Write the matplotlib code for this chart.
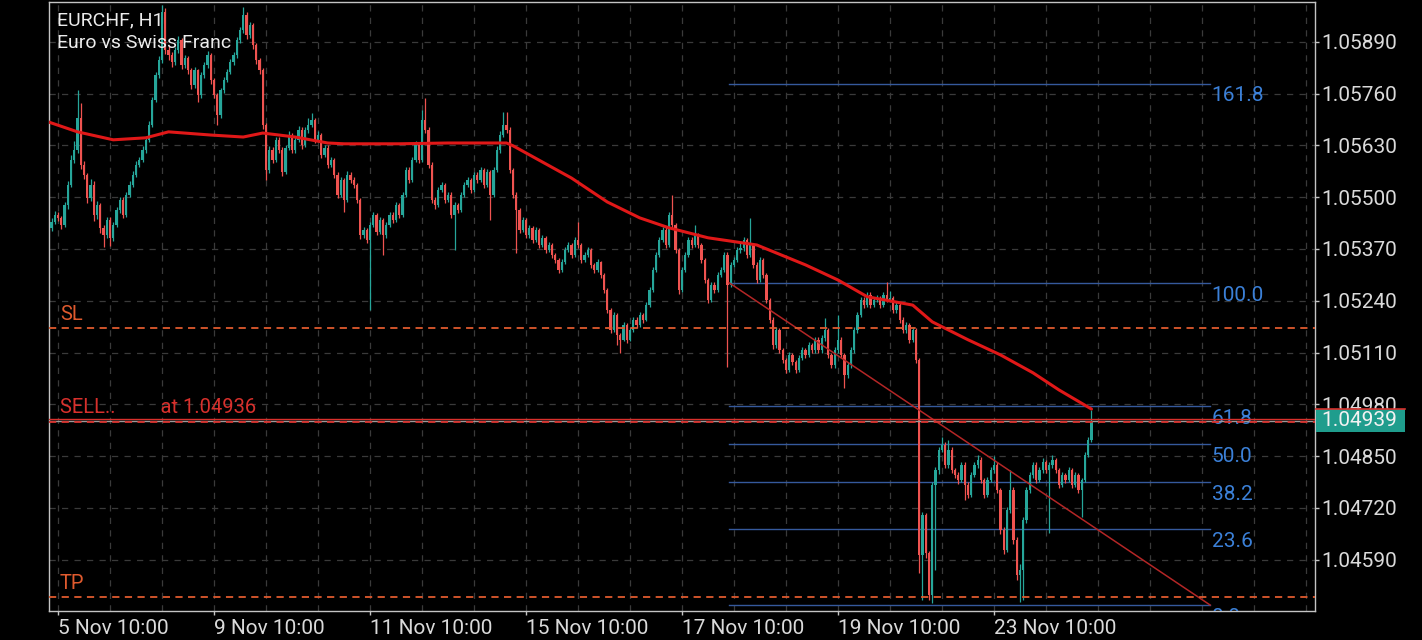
import matplotlib.pyplot as plt
import matplotlib.transforms as mtransforms
from matplotlib.patches import Rectangle
import numpy as np

plt.rcParams['font.family'] = ['Roboto', 'DejaVu Sans']

# prices are stored in 1e-5 steps above 1.04000 (so 1438 -> 1.05438)
BASE = 1.04
STEP = 1e-5

first_open = 1423
closes = [
    1438, 1455, 1448, 1430, 1480, 1531, 1593, 1619, 1699, 1581,
    1556, 1498, 1531, 1455, 1480, 1423, 1405, 1443, 1398, 1430,
    1468, 1493, 1455, 1506, 1531, 1556, 1581, 1593, 1619, 1644,
    1681, 1744, 1807, 1844, 1965, 1870, 1857, 1839, 1870, 1895,
    1832, 1849, 1819, 1782, 1819, 1757, 1807, 1832, 1857, 1794,
    1757, 1706, 1769, 1794, 1814, 1839, 1857, 1895, 1920, 1957,
    1907, 1932, 1882, 1844, 1819, 1681, 1568, 1619, 1593, 1644,
    1619, 1563, 1624, 1656, 1619, 1644, 1669, 1631, 1669, 1681,
    1694, 1644, 1656, 1606, 1624, 1581, 1593, 1556, 1506, 1543,
    1493, 1556, 1543, 1531, 1493, 1405, 1418, 1393, 1430, 1455,
    1413, 1443, 1405, 1430, 1455, 1443, 1480, 1455, 1506, 1568,
    1543, 1593, 1631, 1593, 1694, 1669, 1581, 1493, 1480, 1518,
    1531, 1493, 1506, 1455, 1480, 1468, 1506, 1531, 1543, 1518,
    1556, 1543, 1568, 1531, 1563, 1506, 1568, 1619, 1656, 1681,
    1669, 1568, 1506, 1468, 1418, 1443, 1405, 1423, 1393, 1418,
    1380, 1398, 1368, 1380, 1355, 1342, 1317, 1337, 1368, 1380,
    1355, 1393, 1380, 1342, 1355, 1368, 1330, 1317, 1337, 1305,
    1267, 1217, 1167, 1204, 1154, 1142, 1179, 1142, 1167, 1192,
    1179, 1204, 1192, 1229, 1267, 1317, 1355, 1393, 1418, 1380,
    1455, 1430, 1368, 1267, 1317, 1355, 1393, 1380, 1405, 1380,
    1342, 1292, 1242, 1280, 1267, 1305, 1317, 1355, 1280, 1330,
    1342, 1368, 1373, 1393, 1355, 1380, 1330, 1292, 1342, 1305,
    1242, 1192, 1129, 1167, 1117, 1091, 1066, 1104, 1086, 1066,
    1096, 1117, 1104, 1129, 1117, 1142, 1117, 1147, 1167, 1104,
    1079, 1117, 1142, 1104, 1054, 1079, 1117, 1167, 1204, 1242,
    1229, 1255, 1229, 1242, 1247, 1229, 1255, 1242, 1247, 1217,
    1229, 1192, 1167, 1179, 1142, 1167, 1091, 602, 702, 607,
    502, 778, 815, 866, 878, 828, 866, 815, 803, 790,
    828, 778, 753, 803, 828, 840, 790, 753, 790, 815,
    828, 765, 665, 615, 715, 765, 640, 552, 564, 690,
    765, 803, 828, 790, 815, 835, 815, 828, 840, 815,
    778, 803, 790, 815, 778, 803, 765, 790, 853, 891, 939,
]
highs = [
    1448, 1465, 1462, 1452, 1488, 1540, 1605, 1640, 1769, 1736,
    1590, 1560, 1545, 1540, 1490, 1485, 1430, 1450, 1450, 1438,
    1475, 1500, 1500, 1512, 1540, 1565, 1590, 1600, 1628, 1652,
    1690, 1752, 1815, 1855, 1982, 1975, 1880, 1865, 1878, 1905,
    1900, 1858, 1855, 1825, 1828, 1822, 1815, 1840, 1866, 1862,
    1800, 1762, 1775, 1802, 1822, 1848, 1865, 1902, 1928, 1977,
    1965, 1940, 1938, 1888, 1850, 1825, 1686, 1628, 1625, 1652,
    1650, 1625, 1632, 1665, 1662, 1652, 1678, 1675, 1676, 1699,
    1711, 1700, 1665, 1662, 1632, 1630, 1600, 1598, 1562, 1550,
    1548, 1565, 1562, 1550, 1536, 1498, 1425, 1422, 1438, 1462,
    1460, 1450, 1448, 1438, 1462, 1462, 1488, 1486, 1512, 1575,
    1575, 1600, 1640, 1638, 1719, 1749, 1675, 1588, 1500, 1525,
    1538, 1536, 1512, 1512, 1488, 1486, 1512, 1538, 1550, 1548,
    1562, 1562, 1575, 1572, 1570, 1568, 1575, 1628, 1665, 1714,
    1714, 1675, 1572, 1512, 1472, 1450, 1448, 1430, 1428, 1425,
    1422, 1405, 1402, 1388, 1385, 1360, 1348, 1345, 1375, 1388,
    1385, 1400, 1438, 1385, 1362, 1375, 1372, 1335, 1345, 1340,
    1310, 1272, 1222, 1212, 1210, 1160, 1186, 1185, 1175, 1200,
    1198, 1212, 1210, 1236, 1275, 1325, 1362, 1400, 1426, 1425,
    1462, 1506, 1436, 1372, 1325, 1362, 1400, 1400, 1430, 1410,
    1385, 1348, 1298, 1288, 1286, 1312, 1325, 1362, 1362, 1338,
    1350, 1375, 1385, 1400, 1398, 1448, 1386, 1336, 1350, 1348,
    1310, 1248, 1198, 1175, 1172, 1122, 1096, 1112, 1110, 1092,
    1104, 1125, 1122, 1136, 1135, 1150, 1148, 1155, 1197, 1172,
    1110, 1125, 1204, 1148, 1110, 1086, 1125, 1175, 1212, 1250,
    1250, 1262, 1262, 1250, 1255, 1252, 1262, 1287, 1265, 1252,
    1236, 1234, 1198, 1186, 1185, 1175, 1172, 1096, 710, 708,
    612, 786, 822, 874, 898, 885, 891, 872, 820, 810,
    835, 835, 785, 810, 835, 853, 848, 796, 798, 822,
    850, 835, 770, 672, 722, 815, 772, 648, 580, 698,
    772, 810, 835, 835, 822, 845, 840, 835, 853, 846,
    820, 810, 808, 822, 820, 810, 808, 796, 860, 898, 966,
]
lows = [
    1415, 1432, 1440, 1420, 1425, 1470, 1525, 1585, 1610, 1570,
    1545, 1485, 1490, 1440, 1445, 1410, 1375, 1398, 1378, 1390,
    1425, 1460, 1448, 1450, 1500, 1525, 1550, 1575, 1588, 1612,
    1638, 1675, 1738, 1800, 1838, 1860, 1845, 1828, 1832, 1862,
    1822, 1825, 1810, 1772, 1775, 1739, 1750, 1800, 1825, 1785,
    1748, 1681, 1700, 1762, 1788, 1808, 1832, 1850, 1888, 1912,
    1898, 1900, 1872, 1835, 1810, 1670, 1543, 1560, 1585, 1588,
    1610, 1552, 1558, 1618, 1610, 1612, 1638, 1622, 1625, 1662,
    1675, 1635, 1638, 1598, 1600, 1572, 1575, 1548, 1498, 1500,
    1463, 1488, 1535, 1522, 1485, 1395, 1398, 1385, 1217, 1425,
    1405, 1408, 1355, 1398, 1425, 1435, 1438, 1448, 1450, 1500,
    1535, 1538, 1588, 1585, 1588, 1660, 1572, 1485, 1470, 1475,
    1512, 1485, 1488, 1448, 1368, 1460, 1462, 1500, 1525, 1510,
    1512, 1536, 1538, 1522, 1525, 1443, 1500, 1562, 1612, 1650,
    1660, 1560, 1498, 1360, 1410, 1412, 1398, 1398, 1385, 1388,
    1372, 1375, 1360, 1362, 1348, 1335, 1310, 1312, 1332, 1362,
    1348, 1350, 1372, 1335, 1338, 1350, 1322, 1310, 1312, 1298,
    1260, 1210, 1158, 1162, 1129, 1109, 1138, 1135, 1138, 1162,
    1172, 1175, 1185, 1188, 1225, 1262, 1312, 1350, 1388, 1372,
    1375, 1422, 1360, 1258, 1262, 1312, 1350, 1372, 1375, 1372,
    1335, 1285, 1235, 1236, 1260, 1262, 1300, 1312, 1074, 1275,
    1325, 1336, 1360, 1366, 1348, 1350, 1322, 1285, 1286, 1298,
    1235, 1185, 1120, 1122, 1108, 1084, 1058, 1060, 1078, 1058,
    1060, 1090, 1097, 1098, 1110, 1110, 1110, 1110, 1140, 1096,
    1070, 1072, 1110, 1096, 1021, 1046, 1072, 1110, 1160, 1198,
    1222, 1225, 1222, 1224, 1236, 1222, 1225, 1236, 1238, 1210,
    1210, 1185, 1160, 1160, 1135, 1136, 1084, 557, 489, 595,
    489, 482, 564, 805, 860, 820, 820, 808, 795, 780,
    785, 740, 745, 748, 798, 820, 782, 745, 748, 785,
    808, 758, 655, 605, 608, 708, 630, 540, 484, 489,
    682, 758, 796, 782, 785, 808, 808, 657, 820, 808,
    770, 772, 783, 785, 770, 772, 758, 697, 785, 848, 885,
]

# moving average (bar index, value)
ma_bars = [-1, 8, 19, 29, 36, 49, 59, 65, 75, 85, 90, 107, 122, 140, 142, 150,
           160, 171, 181, 190, 202, 217, 232, 242, 251, 265, 271, 282, 292,
           302, 310, 320]
ma_vals = [1689, 1664, 1644, 1649, 1664, 1656, 1651, 1661, 1651, 1636, 1634,
           1634, 1636, 1636, 1629, 1593, 1548, 1488, 1448, 1423, 1398, 1380,
           1330, 1292, 1250, 1229, 1187, 1142, 1104, 1059, 1016, 968]

tick_bars = [2, 50, 98, 146, 194, 242, 290]
tick_labels = ['5 Nov 10:00', '9 Nov 10:00', '11 Nov 10:00', '15 Nov 10:00',
               '17 Nov 10:00', '19 Nov 10:00', '23 Nov 10:00']
price_ticks = [1.04590, 1.04720, 1.04850, 1.04980, 1.05110, 1.05240,
               1.05370, 1.05500, 1.05630, 1.05760, 1.05890]

fib_levels = [0.0, 23.6, 38.2, 50.0, 61.8, 100.0, 161.8]
fib_low = 1.04476
fib_high = 1.05285
fib_start_bar = 208.5
fib_end_bar = 356.5

sl_price = 1.05172
tp_price = 1.04497
sell_price = 1.04936
bid_price = 1.04939
ask_price = 1.04943

# colors
BG = '#000000'
BULL = '#26a69a'
BEAR = '#ef5350'
GRID = '#3a3a3a'
AXIS = '#c4c4c4'
TXT = '#dadada'
FIB = '#35599c'
FIB_TXT = '#3b80d8'
LEVEL = '#df5a2e'
ORDER = '#d8302c'
MA = '#e01818'

fig = plt.figure(figsize=(14.22, 6.4), dpi=100, facecolor=BG)
ax = fig.add_axes([49 / 1422, 1 - 611 / 640, 1266 / 1422, 609 / 640])
ax.set_facecolor(BG)

c = BASE + np.array(closes) * STEP
o = BASE + np.array([first_open] + closes[:-1]) * STEP
h = np.maximum(BASE + np.array(highs) * STEP, np.maximum(o, c))
l = np.minimum(BASE + np.array(lows) * STEP, np.minimum(o, c))
x = np.arange(len(c))
cols = np.where(c >= o, BULL, BEAR)

ax.vlines(x, l, h, colors=cols, lw=0.9, zorder=3)
ax.bar(x, np.maximum(np.abs(c - o), 0.000012), bottom=np.minimum(o, c),
       width=0.62, color=cols, lw=0, zorder=3)

# moving average
ax.plot(ma_bars, BASE + np.array(ma_vals) * STEP, color=MA, lw=2.2, zorder=4,
        solid_capstyle='round', solid_joinstyle='round')

# fibonacci retracement
rng = fib_high - fib_low
for lev in fib_levels:
    p = fib_low + lev / 100 * rng
    ax.plot([fib_start_bar, fib_end_bar], [p, p], color=FIB, lw=1, zorder=2)
    ax.annotate(f'{lev:.1f}', xy=(fib_end_bar, p), xytext=(1, -2),
                textcoords='offset points', ha='left', va='top',
                color=FIB_TXT, fontsize=15, annotation_clip=False,
                clip_on=True)
ax.plot([fib_start_bar, fib_end_bar], [fib_high, fib_low], color='#b32626',
        lw=1.1, zorder=4)

# SL / TP
for p, name in [(sl_price, 'SL'), (tp_price, 'TP')]:
    ax.axhline(p, color=LEVEL, lw=1.3, ls=(0, (4, 3)), zorder=5)
    ax.annotate(name, xy=(0.0087, p), xycoords=('axes fraction', 'data'),
                xytext=(0, 2.5), textcoords='offset points', ha='left',
                va='bottom', color=LEVEL, fontsize=14.5)

# order / price lines
ax.axhline(ask_price, color=ORDER, lw=1, zorder=5)
ax.axhline(bid_price, color='#9a9a9a', lw=1, zorder=5)
ax.axhline(sell_price, color=ORDER, lw=1.3, ls=(0, (4, 3)), zorder=5)
ax.annotate('SELL..         at 1.04936', xy=(0.0087, ask_price),
            xycoords=('axes fraction', 'data'), xytext=(0, 1.5),
            textcoords='offset points', ha='left', va='bottom', color=ORDER,
            fontsize=14.5)

# current price box on the axis (it covers the lower half of the 1.04980 label)
blend = mtransforms.blended_transform_factory(ax.transAxes, ax.transData)
box_h = 0.000577
ax.add_patch(Rectangle((1.0008, bid_price - box_h / 2), 0.0703, box_h,
                       transform=blend, fc='#1f9d8d', ec='none',
                       clip_on=False, zorder=6))
ax.plot([1.0008, 1.0711], [bid_price + box_h / 2] * 2, transform=blend,
        color=ORDER, lw=1.2, clip_on=False, zorder=7)
ax.text(1.0050, bid_price, '1.04939', transform=blend, ha='left',
        va='center', color='#f2f2f2', fontsize=15, clip_on=False, zorder=7)

# title
ax.text(0.0065, 0.984, 'EURCHF, H1', transform=ax.transAxes, ha='left',
        va='top', color='#ececec', fontsize=14)
ax.text(0.0065, 0.947, 'Euro vs Swiss Franc', transform=ax.transAxes,
        ha='left', va='top', color='#ececec', fontsize=14)

# axes, ticks, grid
ax.set_xlim(-0.77, 388.77)
ax.set_ylim(1.04461, 1.05990)
ax.set_xticks(tick_bars)
ax.set_xticklabels(tick_labels, ha='left')
ax.set_xticks(np.arange(2, 389, 16), minor=True)
ax.set_yticks(price_ticks)
ax.set_yticklabels([f'{p:.5f}' for p in price_ticks])
ax.yaxis.tick_right()
ax.tick_params(axis='both', which='major', colors=AXIS, labelcolor=TXT,
               labelsize=15, length=3, width=1)
ax.tick_params(axis='x', which='major', pad=3)
ax.tick_params(axis='y', which='major', pad=1.5)
ax.tick_params(axis='x', which='minor', length=0)
ax.grid(axis='x', which='both', color=GRID, lw=0.9, ls=(0, (5, 5)))
ax.grid(axis='y', which='major', color=GRID, lw=0.9, ls=(0, (5, 5)))
ax.set_axisbelow(True)
for sp in ax.spines.values():
    sp.set_color(AXIS)
    sp.set_linewidth(1)

fig.savefig('out.png', dpi=100, facecolor=BG)
